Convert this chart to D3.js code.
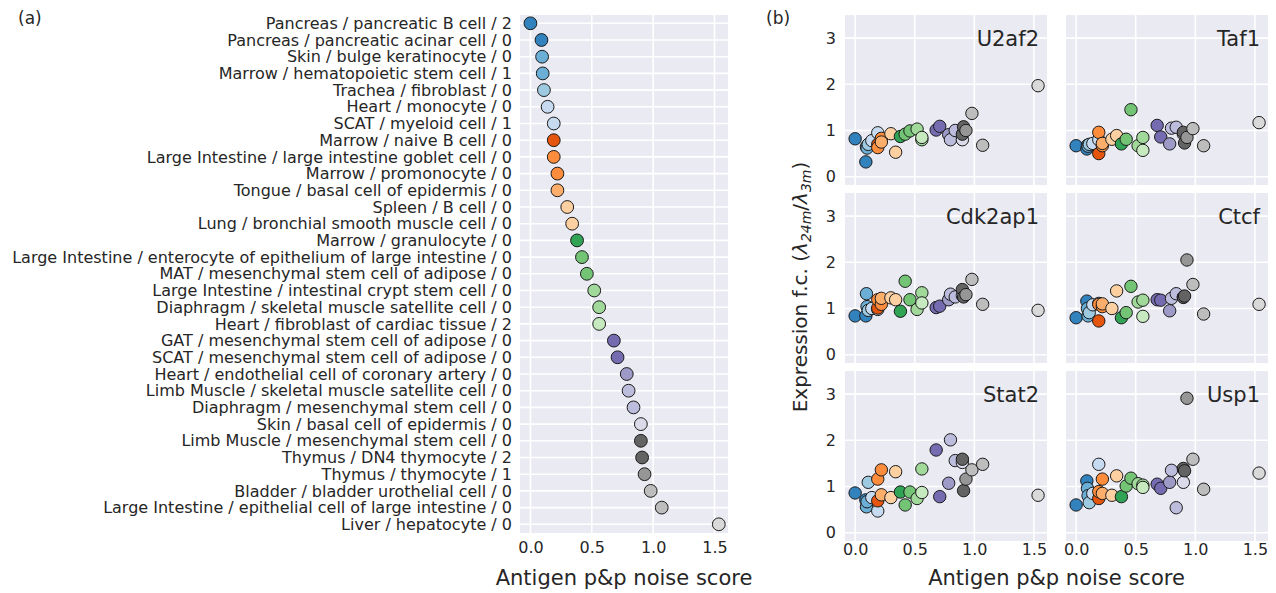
<!DOCTYPE html>
<html>
<head>
<meta charset="utf-8">
<script src="https://cdn.jsdelivr.net/npm/d3@7"></script>
<style>
  html, body { margin: 0; padding: 0; background: #fff; }
  svg text { font-family: "DejaVu Sans", sans-serif; fill: #262626; }
</style>
</head>
<body>
<svg id="fig" width="1276" height="593"></svg>
<script>
// Cell types ranked by antigen processing & presentation noise score
const cellTypes = [
  "Pancreas / pancreatic B cell / 2",
  "Pancreas / pancreatic acinar cell / 0",
  "Skin / bulge keratinocyte / 0",
  "Marrow / hematopoietic stem cell / 1",
  "Trachea / fibroblast / 0",
  "Heart / monocyte / 0",
  "SCAT / myeloid cell / 1",
  "Marrow / naive B cell / 0",
  "Large Intestine / large intestine goblet cell / 0",
  "Marrow / promonocyte / 0",
  "Tongue / basal cell of epidermis / 0",
  "Spleen / B cell / 0",
  "Lung / bronchial smooth muscle cell / 0",
  "Marrow / granulocyte / 0",
  "Large Intestine / enterocyte of epithelium of large intestine / 0",
  "MAT / mesenchymal stem cell of adipose / 0",
  "Large Intestine / intestinal crypt stem cell / 0",
  "Diaphragm / skeletal muscle satellite cell / 0",
  "Heart / fibroblast of cardiac tissue / 2",
  "GAT / mesenchymal stem cell of adipose / 0",
  "SCAT / mesenchymal stem cell of adipose / 0",
  "Heart / endothelial cell of coronary artery / 0",
  "Limb Muscle / skeletal muscle satellite cell / 0",
  "Diaphragm / mesenchymal stem cell / 0",
  "Skin / basal cell of epidermis / 0",
  "Limb Muscle / mesenchymal stem cell / 0",
  "Thymus / DN4 thymocyte / 2",
  "Thymus / thymocyte / 1",
  "Bladder / bladder urothelial cell / 0",
  "Large Intestine / epithelial cell of large intestine / 0",
  "Liver / hepatocyte / 0"
];

const noiseScore = [
  0.00, 0.09, 0.095, 0.10, 0.11, 0.14, 0.19, 0.19, 0.19, 0.22, 0.22,
  0.30, 0.34, 0.38, 0.42, 0.46, 0.52, 0.56, 0.56, 0.68, 0.71,
  0.785, 0.80, 0.84, 0.90, 0.90, 0.91, 0.93, 0.98, 1.07, 1.535
];

// index into the 20-colour palette for each cell type
const colorIndex = [
  0, 0, 1, 1, 2, 3, 3, 4, 5, 5, 6, 7, 7, 8, 9, 9, 10, 10, 11,
  12, 12, 13, 14, 14, 15, 16, 16, 17, 18, 18, 19
];

const palette = [
  "#3182bd", "#6baed6", "#9ecae1", "#c6dbef",
  "#e6550d", "#fd8d3c", "#fdae6b", "#fdd0a2",
  "#31a354", "#74c476", "#a1d99b", "#c7e9c0",
  "#756bb1", "#9e9ac8", "#bcbddc", "#dadaeb",
  "#636363", "#969696", "#bdbdbd", "#d9d9d9"
];

// Expression fold change (24m vs 3m), one value per cell type, per gene
const genes = ["U2af2", "Taf1", "Cdk2ap1", "Ctcf", "Stat2", "Usp1"];
const foldU2af2 = [
  0.82, 0.32, 0.65, 0.62, 0.70, 0.78, 0.95, 0.70, 0.63, 0.83, 0.75,
  0.93, 0.53, 0.87, 0.92, 0.99, 1.03, 0.80, 0.85, 1.01, 1.09,
  0.91, 0.80, 1.00, 0.80, 0.92, 1.08, 1.00, 1.37, 0.68, 1.97
];
const foldTaf1 = [
  0.67, 0.60, 0.68, 0.66, 0.70, 0.72, 0.80, 0.50, 0.96, 0.67, 0.72,
  0.81, 0.89, 0.71, 0.81, 1.45, 0.67, 0.85, 0.57, 1.11, 0.86,
  0.71, 1.05, 1.07, 0.92, 0.96, 0.73, 0.85, 1.04, 0.67, 1.17
];
const foldCdk2ap1 = [
  0.84, 0.84, 1.32, 1.04, 0.96, 1.00, 0.98, 1.01, 1.19, 1.09, 1.22,
  1.23, 1.19, 0.94, 1.59, 1.19, 0.98, 1.34, 1.12, 1.02, 1.05,
  1.19, 1.31, 1.25, 1.28, 1.41, 1.25, 1.30, 1.63, 1.09, 0.96
];
const foldCtcf = [
  0.80, 1.16, 1.00, 0.84, 0.91, 1.08, 1.11, 0.73, 1.09, 1.04, 1.10,
  1.00, 1.38, 0.80, 0.91, 1.48, 1.14, 1.18, 0.83, 1.19, 1.18,
  0.95, 1.22, 1.32, 1.25, 1.24, 1.27, 2.05, 1.52, 0.88, 1.09
];
const foldStat2 = [
  0.86, 0.71, 0.56, 0.67, 1.09, 0.76, 0.47, 0.69, 1.16, 1.36, 0.82,
  0.76, 1.32, 0.88, 0.60, 0.88, 0.74, 1.38, 0.87, 1.79, 0.78,
  1.07, 2.01, 1.56, 1.52, 1.59, 0.91, 1.16, 1.36, 1.48, 0.81
];
const foldUsp1 = [
  0.60, 1.12, 0.96, 0.80, 0.65, 0.85, 1.48, 0.74, 0.89, 1.16, 0.85,
  0.81, 1.23, 0.78, 1.01, 1.18, 1.06, 1.03, 0.98, 1.05, 0.96,
  1.09, 1.35, 0.54, 1.09, 1.39, 1.34, 2.91, 1.59, 0.94, 1.29
];
const geneFolds = [foldU2af2, foldTaf1, foldCdk2ap1, foldCtcf, foldStat2, foldUsp1];

const xTicks = [0, 0.5, 1.0, 1.5];
const yTicks = [0, 1, 2, 3];

const svg = d3.select("#fig");
const BG = "#eaeaf2";
const GRID = "#ffffff";
const fmt = d3.format(".1f");
const TICK_FONT = "16px";
const TITLE_FONT = "21px";

const cells = cellTypes.map((name, i) => ({
  name, score: noiseScore[i], color: palette[colorIndex[i]], i
}));

// ---------- (a) ranked noise score ----------
{
  const L = 520, R = 728, T = 15, B = 533;
  const x = d3.scaleLinear().domain([-0.085, 1.61]).range([L, R]);
  const y = d3.scalePoint().domain(cellTypes).range([23.3, 524.3]);
  const g = svg.append("g");
  g.append("rect").attr("x", L).attr("y", T).attr("width", R - L).attr("height", B - T).attr("fill", BG);
  g.selectAll(".vg").data(xTicks).join("line")
    .attr("x1", d => x(d)).attr("x2", d => x(d)).attr("y1", T).attr("y2", B)
    .attr("stroke", GRID).attr("stroke-width", 1.6);
  g.selectAll(".hg").data(cellTypes).join("line")
    .attr("x1", L).attr("x2", R).attr("y1", d => y(d)).attr("y2", d => y(d))
    .attr("stroke", GRID).attr("stroke-width", 1.6);
  g.selectAll("circle").data(cells).join("circle")
    .attr("cx", d => x(d.score)).attr("cy", d => y(d.name)).attr("r", 6.4)
    .attr("fill", d => d.color).attr("stroke", "#1a1a1a").attr("stroke-width", 1);

  const ax = g.append("g").attr("transform", `translate(0,${B})`)
    .call(d3.axisBottom(x).tickValues(xTicks).tickFormat(fmt).tickSize(0).tickPadding(9));
  ax.select(".domain").remove();
  ax.selectAll("text").style("font-size", TICK_FONT).attr("fill", "#262626");

  const ay = g.append("g").attr("transform", `translate(${L},0)`)
    .call(d3.axisLeft(y).tickSize(0).tickPadding(8));
  ay.select(".domain").remove();
  ay.selectAll("text").style("font-size", TICK_FONT).attr("fill", "#262626");

  g.append("text").attr("x", (L + R) / 2).attr("y", 585).attr("text-anchor", "middle")
    .style("font-size", TITLE_FONT).text("Antigen p&p noise score");
  svg.append("text").attr("x", 18).attr("y", 24).style("font-size", "17px").text("(a)");
}

// ---------- (b) fold change vs noise score, one panel per gene ----------
{
  const cols = [[845, 1047], [1066, 1268]];
  const rows = [[15, 185], [193, 363], [371, 541]];
  genes.forEach((gene, k) => {
    const [L, R] = cols[k % 2];
    const [T, B] = rows[Math.floor(k / 2)];
    const x = d3.scaleLinear().domain([-0.085, 1.61]).range([L, R]);
    const y = d3.scaleLinear().domain([-0.18, 3.5]).range([B, T]);
    const g = svg.append("g");
    g.append("rect").attr("x", L).attr("y", T).attr("width", R - L).attr("height", B - T).attr("fill", BG);
    g.selectAll(".vg").data(xTicks).join("line")
      .attr("x1", d => x(d)).attr("x2", d => x(d)).attr("y1", T).attr("y2", B)
      .attr("stroke", GRID).attr("stroke-width", 1.6);
    g.selectAll(".hg").data(yTicks).join("line")
      .attr("x1", L).attr("x2", R).attr("y1", d => y(d)).attr("y2", d => y(d))
      .attr("stroke", GRID).attr("stroke-width", 1.6);
    const vals = geneFolds[k];
    g.selectAll("circle").data(cells).join("circle")
      .attr("cx", d => x(d.score)).attr("cy", d => y(vals[d.i])).attr("r", 6.2)
      .attr("fill", d => d.color).attr("stroke", "#1a1a1a").attr("stroke-width", 1);
    g.append("text").attr("x", R - 8).attr("y", T + 31).attr("text-anchor", "end")
      .style("font-size", "21px").text(gene);

    if (k % 2 === 0) {
      const ay = g.append("g").attr("transform", `translate(${L},0)`)
        .call(d3.axisLeft(y).tickValues(yTicks).tickFormat(d3.format("d")).tickSize(0).tickPadding(9));
      ay.select(".domain").remove();
      ay.selectAll("text").style("font-size", TICK_FONT).attr("fill", "#262626");
    }
    if (Math.floor(k / 2) === 2) {
      const ax = g.append("g").attr("transform", `translate(0,${B})`)
        .call(d3.axisBottom(x).tickValues(xTicks).tickFormat(fmt).tickSize(0).tickPadding(3));
      ax.select(".domain").remove();
      ax.selectAll("text").style("font-size", TICK_FONT).attr("fill", "#262626");
    }
  });

  svg.append("text").attr("x", 1056.5).attr("y", 585).attr("text-anchor", "middle")
    .style("font-size", TITLE_FONT).text("Antigen p&p noise score");

  const yt = svg.append("text").attr("transform", "translate(807,287) rotate(-90)")
    .attr("text-anchor", "middle").style("font-size", "20px");
  yt.append("tspan").text("Expression f.c. (");
  yt.append("tspan").style("font-style", "italic").text("λ");
  yt.append("tspan").style("font-style", "italic").style("font-size", "14px").attr("dy", 4).text("24m");
  yt.append("tspan").attr("dy", -4).text("/");
  yt.append("tspan").style("font-style", "italic").text("λ");
  yt.append("tspan").style("font-style", "italic").style("font-size", "14px").attr("dy", 4).text("3m");
  yt.append("tspan").attr("dy", -4).text(")");

  svg.append("text").attr("x", 766).attr("y", 24).style("font-size", "17px").text("(b)");
}
</script>
</body>
</html>
